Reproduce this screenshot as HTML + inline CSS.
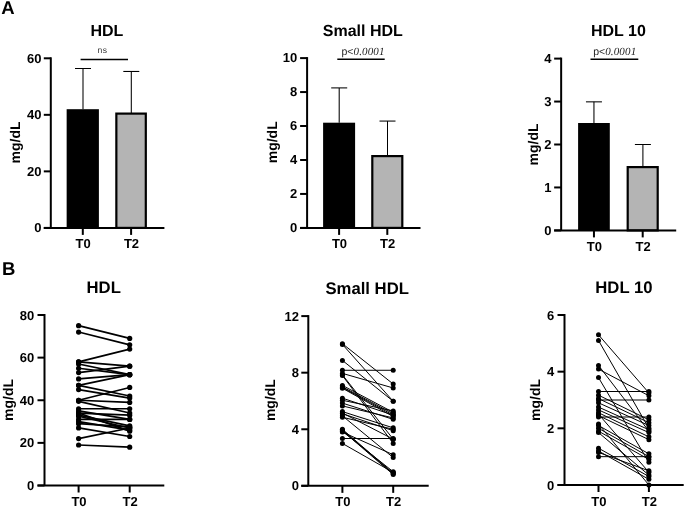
<!DOCTYPE html>
<html><head><meta charset="utf-8"><title>HDL figure</title>
<style>
html,body{margin:0;padding:0;background:#fff;}
body{width:685px;height:508px;overflow:hidden;}
svg{display:block;will-change:transform;}
text{font-family:"Liberation Sans", sans-serif;text-rendering:geometricPrecision;}
.ax{stroke:#000;stroke-width:2.0;fill:none;}
.eb{stroke:#000;stroke-width:1.05;fill:none;}
.sg{stroke:#000;stroke-width:1.5;}
.lbl{font-size:13px;font-weight:bold;fill:#000;}
.yl{font-size:14px;font-weight:bold;fill:#000;}
.tt{font-size:16px;font-weight:bold;fill:#000;}
.tb{font-size:16.7px;font-weight:bold;fill:#000;}
.pl{font-size:18.5px;font-weight:bold;fill:#000;}
.ns{font-size:8.6px;fill:#333;letter-spacing:0.5px;}
.pv{font-size:10.5px;fill:#222;}
.pn{font-family:"Liberation Serif", serif;font-style:italic;font-size:11px;letter-spacing:0.15px;}
</style></head>
<body>
<svg width="685" height="508" viewBox="0 0 685 508">
<rect width="685" height="508" fill="#fff"/>
<text x="1.2" y="13.9" class="pl">A</text>
<text x="2" y="275.1" class="pl">B</text>
<text x="106.9" y="35.9" class="tt" text-anchor="middle">HDL</text>
<line x1="80.6" y1="59.4" x2="128" y2="59.4" class="sg"/>
<text x="97.6" y="53.1" class="ns">ns</text>
<rect x="66.65" y="109.2" width="32.25" height="118.7" fill="#000"/>
<rect x="116.35" y="113.6" width="29.45" height="114.3" fill="#b4b4b4" stroke="#000" stroke-width="2.2"/>
<line x1="83" y1="68.5" x2="83" y2="109.2" class="eb"/>
<line x1="75" y1="68.5" x2="91" y2="68.5" class="eb"/>
<line x1="131.3" y1="71.45" x2="131.3" y2="113" class="eb"/>
<line x1="123.3" y1="71.45" x2="139.3" y2="71.45" class="eb"/>
<line x1="50.8" y1="57.3" x2="50.8" y2="227.9" class="ax"/>
<line x1="43.8" y1="227.9" x2="50.8" y2="227.9" class="ax"/>
<text x="41.4" y="232.1" class="lbl" text-anchor="end">0</text>
<line x1="43.8" y1="171.37" x2="50.8" y2="171.37" class="ax"/>
<text x="41.4" y="175.57" class="lbl" text-anchor="end">20</text>
<line x1="43.8" y1="114.83" x2="50.8" y2="114.83" class="ax"/>
<text x="41.4" y="119.03" class="lbl" text-anchor="end">40</text>
<line x1="43.8" y1="58.3" x2="50.8" y2="58.3" class="ax"/>
<text x="41.4" y="62.5" class="lbl" text-anchor="end">60</text>
<line x1="43.8" y1="227.9" x2="164.4" y2="227.9" class="ax"/>
<line x1="82.8" y1="227.9" x2="82.8" y2="234.9" class="ax"/>
<text x="83.2" y="248.1" class="lbl" text-anchor="middle">T0</text>
<line x1="131.1" y1="227.9" x2="131.1" y2="234.9" class="ax"/>
<text x="131.5" y="248.1" class="lbl" text-anchor="middle">T2</text>
<text x="0" y="0" class="yl" text-anchor="middle" transform="translate(19.7,142.4) rotate(-90)">mg/dL</text>
<text x="362.8" y="36" class="tt" text-anchor="middle">Small HDL</text>
<line x1="337.3" y1="59.3" x2="384.7" y2="59.3" class="sg"/>
<text x="341.5" y="55" class="pv"><tspan class="pp">p&lt;</tspan><tspan class="pn">0.0001</tspan></text>
<rect x="323.1" y="122.7" width="32" height="105.2" fill="#000"/>
<rect x="372.3" y="156.1" width="30" height="71.8" fill="#b4b4b4" stroke="#000" stroke-width="2.2"/>
<line x1="339.2" y1="87.9" x2="339.2" y2="122.7" class="eb"/>
<line x1="331.2" y1="87.9" x2="347.2" y2="87.9" class="eb"/>
<line x1="387.5" y1="121.07" x2="387.5" y2="156" class="eb"/>
<line x1="379.5" y1="121.07" x2="395.5" y2="121.07" class="eb"/>
<line x1="307.1" y1="57.1" x2="307.1" y2="227.9" class="ax"/>
<line x1="300.1" y1="227.9" x2="307.1" y2="227.9" class="ax"/>
<text x="297.3" y="232.1" class="lbl" text-anchor="end">0</text>
<line x1="300.1" y1="193.94" x2="307.1" y2="193.94" class="ax"/>
<text x="297.3" y="198.14" class="lbl" text-anchor="end">2</text>
<line x1="300.1" y1="159.98" x2="307.1" y2="159.98" class="ax"/>
<text x="297.3" y="164.18" class="lbl" text-anchor="end">4</text>
<line x1="300.1" y1="126.02" x2="307.1" y2="126.02" class="ax"/>
<text x="297.3" y="130.22" class="lbl" text-anchor="end">6</text>
<line x1="300.1" y1="92.06" x2="307.1" y2="92.06" class="ax"/>
<text x="297.3" y="96.26" class="lbl" text-anchor="end">8</text>
<line x1="300.1" y1="58.1" x2="307.1" y2="58.1" class="ax"/>
<text x="297.3" y="62.3" class="lbl" text-anchor="end">10</text>
<line x1="300.1" y1="227.9" x2="420.5" y2="227.9" class="ax"/>
<line x1="339.1" y1="227.9" x2="339.1" y2="234.9" class="ax"/>
<text x="339.5" y="248.3" class="lbl" text-anchor="middle">T0</text>
<line x1="387.3" y1="227.9" x2="387.3" y2="234.9" class="ax"/>
<text x="387.7" y="248.3" class="lbl" text-anchor="middle">T2</text>
<text x="0" y="0" class="yl" text-anchor="middle" transform="translate(277.3,142.3) rotate(-90)">mg/dL</text>
<text x="618.4" y="36.2" class="tt" text-anchor="middle">HDL 10</text>
<line x1="590.5" y1="59.3" x2="638.3" y2="59.3" class="sg"/>
<text x="593.2" y="55" class="pv"><tspan class="pp">p&lt;</tspan><tspan class="pn">0.0001</tspan></text>
<rect x="578.1" y="123" width="31.7" height="107.4" fill="#000"/>
<rect x="627.7" y="167.1" width="30" height="63.3" fill="#b4b4b4" stroke="#000" stroke-width="2.2"/>
<line x1="593.95" y1="101.85" x2="593.95" y2="123" class="eb"/>
<line x1="585.95" y1="101.85" x2="601.95" y2="101.85" class="eb"/>
<line x1="642.9" y1="144.5" x2="642.9" y2="167" class="eb"/>
<line x1="634.9" y1="144.5" x2="650.9" y2="144.5" class="eb"/>
<line x1="561.15" y1="57.6" x2="561.15" y2="230.4" class="ax"/>
<line x1="554.15" y1="230.4" x2="561.15" y2="230.4" class="ax"/>
<text x="551.6" y="234.6" class="lbl" text-anchor="end">0</text>
<line x1="554.15" y1="187.45" x2="561.15" y2="187.45" class="ax"/>
<text x="551.6" y="191.65" class="lbl" text-anchor="end">1</text>
<line x1="554.15" y1="144.5" x2="561.15" y2="144.5" class="ax"/>
<text x="551.6" y="148.7" class="lbl" text-anchor="end">2</text>
<line x1="554.15" y1="101.55" x2="561.15" y2="101.55" class="ax"/>
<text x="551.6" y="105.75" class="lbl" text-anchor="end">3</text>
<line x1="554.15" y1="58.6" x2="561.15" y2="58.6" class="ax"/>
<text x="551.6" y="62.8" class="lbl" text-anchor="end">4</text>
<line x1="554.15" y1="230.4" x2="676.2" y2="230.4" class="ax"/>
<line x1="593.95" y1="230.4" x2="593.95" y2="237.4" class="ax"/>
<text x="594.35" y="251.1" class="lbl" text-anchor="middle">T0</text>
<line x1="642.7" y1="230.4" x2="642.7" y2="237.4" class="ax"/>
<text x="643.1" y="251.1" class="lbl" text-anchor="middle">T2</text>
<text x="0" y="0" class="yl" text-anchor="middle" transform="translate(538.2,144.5) rotate(-90)">mg/dL</text>
<text x="103.7" y="293.2" class="tb" text-anchor="middle">HDL</text>
<line x1="44.5" y1="314" x2="44.5" y2="485.5" class="ax"/>
<line x1="37.5" y1="485.5" x2="44.5" y2="485.5" class="ax"/>
<text x="34.2" y="490.1" class="lbl" text-anchor="end">0</text>
<line x1="37.5" y1="442.88" x2="44.5" y2="442.88" class="ax"/>
<text x="34.2" y="447.48" class="lbl" text-anchor="end">20</text>
<line x1="37.5" y1="400.25" x2="44.5" y2="400.25" class="ax"/>
<text x="34.2" y="404.85" class="lbl" text-anchor="end">40</text>
<line x1="37.5" y1="357.62" x2="44.5" y2="357.62" class="ax"/>
<text x="34.2" y="362.23" class="lbl" text-anchor="end">60</text>
<line x1="37.5" y1="315" x2="44.5" y2="315" class="ax"/>
<text x="34.2" y="319.6" class="lbl" text-anchor="end">80</text>
<line x1="37.5" y1="485.5" x2="164.3" y2="485.5" class="ax"/>
<line x1="78.6" y1="485.5" x2="78.6" y2="492.5" class="ax"/>
<text x="79" y="506" class="lbl" text-anchor="middle">T0</text>
<line x1="129.7" y1="485.5" x2="129.7" y2="492.5" class="ax"/>
<text x="130.1" y="506" class="lbl" text-anchor="middle">T2</text>
<line x1="78.6" y1="325.66" x2="129.7" y2="338.44" stroke="#000" stroke-width="1.7"/>
<line x1="78.6" y1="332.05" x2="129.7" y2="344.84" stroke="#000" stroke-width="1.7"/>
<line x1="78.6" y1="361.89" x2="129.7" y2="349.1" stroke="#000" stroke-width="1.7"/>
<line x1="78.6" y1="361.89" x2="129.7" y2="366.15" stroke="#000" stroke-width="1.7"/>
<line x1="78.6" y1="364.02" x2="129.7" y2="374.68" stroke="#000" stroke-width="1.7"/>
<line x1="78.6" y1="368.28" x2="129.7" y2="374.68" stroke="#000" stroke-width="1.7"/>
<line x1="78.6" y1="372.54" x2="129.7" y2="366.15" stroke="#000" stroke-width="1.7"/>
<line x1="78.6" y1="378.94" x2="129.7" y2="374.68" stroke="#000" stroke-width="1.7"/>
<line x1="78.6" y1="385.33" x2="129.7" y2="374.68" stroke="#000" stroke-width="1.7"/>
<line x1="78.6" y1="385.33" x2="129.7" y2="395.99" stroke="#000" stroke-width="1.7"/>
<line x1="78.6" y1="389.59" x2="129.7" y2="398.12" stroke="#000" stroke-width="1.7"/>
<line x1="78.6" y1="400.25" x2="129.7" y2="387.46" stroke="#000" stroke-width="1.7"/>
<line x1="78.6" y1="400.25" x2="129.7" y2="402.38" stroke="#000" stroke-width="1.7"/>
<line x1="78.6" y1="401.32" x2="129.7" y2="413.04" stroke="#000" stroke-width="1.7"/>
<line x1="78.6" y1="408.77" x2="129.7" y2="408.77" stroke="#000" stroke-width="1.7"/>
<line x1="78.6" y1="410.91" x2="129.7" y2="419.43" stroke="#000" stroke-width="1.7"/>
<line x1="78.6" y1="413.04" x2="129.7" y2="415.17" stroke="#000" stroke-width="1.7"/>
<line x1="78.6" y1="415.17" x2="129.7" y2="425.82" stroke="#000" stroke-width="1.7"/>
<line x1="78.6" y1="416.23" x2="129.7" y2="427.96" stroke="#000" stroke-width="1.7"/>
<line x1="78.6" y1="419.43" x2="129.7" y2="419.43" stroke="#000" stroke-width="1.7"/>
<line x1="78.6" y1="421.56" x2="129.7" y2="430.09" stroke="#000" stroke-width="1.7"/>
<line x1="78.6" y1="423.69" x2="129.7" y2="426.89" stroke="#000" stroke-width="1.7"/>
<line x1="78.6" y1="427.96" x2="129.7" y2="436.48" stroke="#000" stroke-width="1.7"/>
<line x1="78.6" y1="438.61" x2="129.7" y2="427.96" stroke="#000" stroke-width="1.7"/>
<line x1="78.6" y1="445.01" x2="129.7" y2="447.14" stroke="#000" stroke-width="1.7"/>
<line x1="78.6" y1="413.04" x2="129.7" y2="431.15" stroke="#000" stroke-width="1.7"/>
<circle cx="78.6" cy="325.66" r="2.6"/>
<circle cx="129.7" cy="338.44" r="2.6"/>
<circle cx="78.6" cy="332.05" r="2.6"/>
<circle cx="129.7" cy="344.84" r="2.6"/>
<circle cx="78.6" cy="361.89" r="2.6"/>
<circle cx="129.7" cy="349.1" r="2.6"/>
<circle cx="78.6" cy="361.89" r="2.6"/>
<circle cx="129.7" cy="366.15" r="2.6"/>
<circle cx="78.6" cy="364.02" r="2.6"/>
<circle cx="129.7" cy="374.68" r="2.6"/>
<circle cx="78.6" cy="368.28" r="2.6"/>
<circle cx="129.7" cy="374.68" r="2.6"/>
<circle cx="78.6" cy="372.54" r="2.6"/>
<circle cx="129.7" cy="366.15" r="2.6"/>
<circle cx="78.6" cy="378.94" r="2.6"/>
<circle cx="129.7" cy="374.68" r="2.6"/>
<circle cx="78.6" cy="385.33" r="2.6"/>
<circle cx="129.7" cy="374.68" r="2.6"/>
<circle cx="78.6" cy="385.33" r="2.6"/>
<circle cx="129.7" cy="395.99" r="2.6"/>
<circle cx="78.6" cy="389.59" r="2.6"/>
<circle cx="129.7" cy="398.12" r="2.6"/>
<circle cx="78.6" cy="400.25" r="2.6"/>
<circle cx="129.7" cy="387.46" r="2.6"/>
<circle cx="78.6" cy="400.25" r="2.6"/>
<circle cx="129.7" cy="402.38" r="2.6"/>
<circle cx="78.6" cy="401.32" r="2.6"/>
<circle cx="129.7" cy="413.04" r="2.6"/>
<circle cx="78.6" cy="408.77" r="2.6"/>
<circle cx="129.7" cy="408.77" r="2.6"/>
<circle cx="78.6" cy="410.91" r="2.6"/>
<circle cx="129.7" cy="419.43" r="2.6"/>
<circle cx="78.6" cy="413.04" r="2.6"/>
<circle cx="129.7" cy="415.17" r="2.6"/>
<circle cx="78.6" cy="415.17" r="2.6"/>
<circle cx="129.7" cy="425.82" r="2.6"/>
<circle cx="78.6" cy="416.23" r="2.6"/>
<circle cx="129.7" cy="427.96" r="2.6"/>
<circle cx="78.6" cy="419.43" r="2.6"/>
<circle cx="129.7" cy="419.43" r="2.6"/>
<circle cx="78.6" cy="421.56" r="2.6"/>
<circle cx="129.7" cy="430.09" r="2.6"/>
<circle cx="78.6" cy="423.69" r="2.6"/>
<circle cx="129.7" cy="426.89" r="2.6"/>
<circle cx="78.6" cy="427.96" r="2.6"/>
<circle cx="129.7" cy="436.48" r="2.6"/>
<circle cx="78.6" cy="438.61" r="2.6"/>
<circle cx="129.7" cy="427.96" r="2.6"/>
<circle cx="78.6" cy="445.01" r="2.6"/>
<circle cx="129.7" cy="447.14" r="2.6"/>
<circle cx="78.6" cy="413.04" r="2.6"/>
<circle cx="129.7" cy="431.15" r="2.6"/>
<text x="0" y="0" class="yl" text-anchor="middle" transform="translate(12.8,400) rotate(-90)">mg/dL</text>
<text x="367.2" y="294.2" class="tb" text-anchor="middle">Small HDL</text>
<line x1="308.3" y1="315.1" x2="308.3" y2="485.85" class="ax"/>
<line x1="301.3" y1="485.85" x2="308.3" y2="485.85" class="ax"/>
<text x="299" y="490.45" class="lbl" text-anchor="end">0</text>
<line x1="301.3" y1="429.27" x2="308.3" y2="429.27" class="ax"/>
<text x="299" y="433.87" class="lbl" text-anchor="end">4</text>
<line x1="301.3" y1="372.68" x2="308.3" y2="372.68" class="ax"/>
<text x="299" y="377.28" class="lbl" text-anchor="end">8</text>
<line x1="301.3" y1="316.1" x2="308.3" y2="316.1" class="ax"/>
<text x="299" y="320.7" class="lbl" text-anchor="end">12</text>
<line x1="301.3" y1="485.85" x2="428.7" y2="485.85" class="ax"/>
<line x1="342.4" y1="485.85" x2="342.4" y2="492.85" class="ax"/>
<text x="342.8" y="506.3" class="lbl" text-anchor="middle">T0</text>
<line x1="393.2" y1="485.85" x2="393.2" y2="492.85" class="ax"/>
<text x="393.6" y="506.3" class="lbl" text-anchor="middle">T2</text>
<line x1="342.4" y1="343.68" x2="393.2" y2="384" stroke="#000" stroke-width="1.0"/>
<line x1="342.4" y1="344.39" x2="393.2" y2="401.26" stroke="#000" stroke-width="1.0"/>
<line x1="342.4" y1="360.38" x2="393.2" y2="401.26" stroke="#000" stroke-width="1.0"/>
<line x1="342.4" y1="370.28" x2="393.2" y2="370.28" stroke="#000" stroke-width="1.0"/>
<line x1="342.4" y1="373.39" x2="393.2" y2="387.96" stroke="#000" stroke-width="1.0"/>
<line x1="342.4" y1="374.81" x2="393.2" y2="439.17" stroke="#000" stroke-width="1.0"/>
<line x1="342.4" y1="375.51" x2="393.2" y2="443.41" stroke="#000" stroke-width="1.0"/>
<line x1="342.4" y1="385.41" x2="393.2" y2="412.29" stroke="#000" stroke-width="1.0"/>
<line x1="342.4" y1="386.83" x2="393.2" y2="413.71" stroke="#000" stroke-width="1.0"/>
<line x1="342.4" y1="387.54" x2="393.2" y2="415.12" stroke="#000" stroke-width="1.0"/>
<line x1="342.4" y1="388.24" x2="393.2" y2="416.54" stroke="#000" stroke-width="1.0"/>
<line x1="342.4" y1="398.15" x2="393.2" y2="415.12" stroke="#000" stroke-width="1.0"/>
<line x1="342.4" y1="400.27" x2="393.2" y2="410.88" stroke="#000" stroke-width="1.0"/>
<line x1="342.4" y1="403.1" x2="393.2" y2="419.36" stroke="#000" stroke-width="1.0"/>
<line x1="342.4" y1="405.93" x2="393.2" y2="417.95" stroke="#000" stroke-width="1.0"/>
<line x1="342.4" y1="411.58" x2="393.2" y2="427.85" stroke="#000" stroke-width="1.0"/>
<line x1="342.4" y1="413.71" x2="393.2" y2="430.68" stroke="#000" stroke-width="1.0"/>
<line x1="342.4" y1="413" x2="393.2" y2="439.17" stroke="#000" stroke-width="1.0"/>
<line x1="342.4" y1="417.24" x2="393.2" y2="429.27" stroke="#000" stroke-width="1.0"/>
<line x1="342.4" y1="429.27" x2="393.2" y2="473.12" stroke="#000" stroke-width="1.0"/>
<line x1="342.4" y1="429.97" x2="393.2" y2="473.83" stroke="#000" stroke-width="1.0"/>
<line x1="342.4" y1="430.68" x2="393.2" y2="474.53" stroke="#000" stroke-width="1.0"/>
<line x1="342.4" y1="431.39" x2="393.2" y2="471.7" stroke="#000" stroke-width="1.0"/>
<line x1="342.4" y1="432.1" x2="393.2" y2="454.73" stroke="#000" stroke-width="1.0"/>
<line x1="342.4" y1="438.5" x2="393.2" y2="438.5" stroke="#000" stroke-width="1.0"/>
<line x1="342.4" y1="443.41" x2="393.2" y2="472.41" stroke="#000" stroke-width="1.0"/>
<line x1="342.4" y1="415.83" x2="393.2" y2="457.56" stroke="#000" stroke-width="1.0"/>
<circle cx="342.4" cy="343.68" r="2.5"/>
<circle cx="393.2" cy="384" r="2.5"/>
<circle cx="342.4" cy="344.39" r="2.5"/>
<circle cx="393.2" cy="401.26" r="2.5"/>
<circle cx="342.4" cy="360.38" r="2.5"/>
<circle cx="393.2" cy="401.26" r="2.5"/>
<circle cx="342.4" cy="370.28" r="2.5"/>
<circle cx="393.2" cy="370.28" r="2.5"/>
<circle cx="342.4" cy="373.39" r="2.5"/>
<circle cx="393.2" cy="387.96" r="2.5"/>
<circle cx="342.4" cy="374.81" r="2.5"/>
<circle cx="393.2" cy="439.17" r="2.5"/>
<circle cx="342.4" cy="375.51" r="2.5"/>
<circle cx="393.2" cy="443.41" r="2.5"/>
<circle cx="342.4" cy="385.41" r="2.5"/>
<circle cx="393.2" cy="412.29" r="2.5"/>
<circle cx="342.4" cy="386.83" r="2.5"/>
<circle cx="393.2" cy="413.71" r="2.5"/>
<circle cx="342.4" cy="387.54" r="2.5"/>
<circle cx="393.2" cy="415.12" r="2.5"/>
<circle cx="342.4" cy="388.24" r="2.5"/>
<circle cx="393.2" cy="416.54" r="2.5"/>
<circle cx="342.4" cy="398.15" r="2.5"/>
<circle cx="393.2" cy="415.12" r="2.5"/>
<circle cx="342.4" cy="400.27" r="2.5"/>
<circle cx="393.2" cy="410.88" r="2.5"/>
<circle cx="342.4" cy="403.1" r="2.5"/>
<circle cx="393.2" cy="419.36" r="2.5"/>
<circle cx="342.4" cy="405.93" r="2.5"/>
<circle cx="393.2" cy="417.95" r="2.5"/>
<circle cx="342.4" cy="411.58" r="2.5"/>
<circle cx="393.2" cy="427.85" r="2.5"/>
<circle cx="342.4" cy="413.71" r="2.5"/>
<circle cx="393.2" cy="430.68" r="2.5"/>
<circle cx="342.4" cy="413" r="2.5"/>
<circle cx="393.2" cy="439.17" r="2.5"/>
<circle cx="342.4" cy="417.24" r="2.5"/>
<circle cx="393.2" cy="429.27" r="2.5"/>
<circle cx="342.4" cy="429.27" r="2.5"/>
<circle cx="393.2" cy="473.12" r="2.5"/>
<circle cx="342.4" cy="429.97" r="2.5"/>
<circle cx="393.2" cy="473.83" r="2.5"/>
<circle cx="342.4" cy="430.68" r="2.5"/>
<circle cx="393.2" cy="474.53" r="2.5"/>
<circle cx="342.4" cy="431.39" r="2.5"/>
<circle cx="393.2" cy="471.7" r="2.5"/>
<circle cx="342.4" cy="432.1" r="2.5"/>
<circle cx="393.2" cy="454.73" r="2.5"/>
<circle cx="342.4" cy="438.5" r="2.5"/>
<circle cx="393.2" cy="438.5" r="2.5"/>
<circle cx="342.4" cy="443.41" r="2.5"/>
<circle cx="393.2" cy="472.41" r="2.5"/>
<circle cx="342.4" cy="415.83" r="2.5"/>
<circle cx="393.2" cy="457.56" r="2.5"/>
<text x="0" y="0" class="yl" text-anchor="middle" transform="translate(274.6,400.1) rotate(-90)">mg/dL</text>
<text x="623.9" y="293.2" class="tb" text-anchor="middle">HDL 10</text>
<line x1="564.5" y1="314" x2="564.5" y2="485" class="ax"/>
<line x1="557.5" y1="485" x2="564.5" y2="485" class="ax"/>
<text x="554.2" y="489.6" class="lbl" text-anchor="end">0</text>
<line x1="557.5" y1="428.33" x2="564.5" y2="428.33" class="ax"/>
<text x="554.2" y="432.93" class="lbl" text-anchor="end">2</text>
<line x1="557.5" y1="371.67" x2="564.5" y2="371.67" class="ax"/>
<text x="554.2" y="376.27" class="lbl" text-anchor="end">4</text>
<line x1="557.5" y1="315" x2="564.5" y2="315" class="ax"/>
<text x="554.2" y="319.6" class="lbl" text-anchor="end">6</text>
<line x1="557.5" y1="485" x2="683.7" y2="485" class="ax"/>
<line x1="598.5" y1="485" x2="598.5" y2="492" class="ax"/>
<text x="598.9" y="505.8" class="lbl" text-anchor="middle">T0</text>
<line x1="648.9" y1="485" x2="648.9" y2="492" class="ax"/>
<text x="649.3" y="505.8" class="lbl" text-anchor="middle">T2</text>
<line x1="598.5" y1="334.83" x2="648.9" y2="392.92" stroke="#000" stroke-width="1.0"/>
<line x1="598.5" y1="340.5" x2="648.9" y2="428.33" stroke="#000" stroke-width="1.0"/>
<line x1="598.5" y1="365.43" x2="648.9" y2="431.17" stroke="#000" stroke-width="1.0"/>
<line x1="598.5" y1="369.12" x2="648.9" y2="395.75" stroke="#000" stroke-width="1.0"/>
<line x1="598.5" y1="377.62" x2="648.9" y2="462.33" stroke="#000" stroke-width="1.0"/>
<line x1="598.5" y1="391.5" x2="648.9" y2="391.5" stroke="#000" stroke-width="1.0"/>
<line x1="598.5" y1="395.18" x2="648.9" y2="419.83" stroke="#000" stroke-width="1.0"/>
<line x1="598.5" y1="398.58" x2="648.9" y2="422.67" stroke="#000" stroke-width="1.0"/>
<line x1="598.5" y1="400" x2="648.9" y2="400" stroke="#000" stroke-width="1.0"/>
<line x1="598.5" y1="402.83" x2="648.9" y2="425.5" stroke="#000" stroke-width="1.0"/>
<line x1="598.5" y1="407.08" x2="648.9" y2="429.75" stroke="#000" stroke-width="1.0"/>
<line x1="598.5" y1="409.92" x2="648.9" y2="432.58" stroke="#000" stroke-width="1.0"/>
<line x1="598.5" y1="412.75" x2="648.9" y2="436.83" stroke="#000" stroke-width="1.0"/>
<line x1="598.5" y1="415.58" x2="648.9" y2="439.67" stroke="#000" stroke-width="1.0"/>
<line x1="598.5" y1="417" x2="648.9" y2="417" stroke="#000" stroke-width="1.0"/>
<line x1="598.5" y1="414.17" x2="648.9" y2="472.25" stroke="#000" stroke-width="1.0"/>
<line x1="598.5" y1="425.5" x2="648.9" y2="453.83" stroke="#000" stroke-width="1.0"/>
<line x1="598.5" y1="428.33" x2="648.9" y2="456.67" stroke="#000" stroke-width="1.0"/>
<line x1="598.5" y1="431.17" x2="648.9" y2="459.5" stroke="#000" stroke-width="1.0"/>
<line x1="598.5" y1="432.58" x2="648.9" y2="475.08" stroke="#000" stroke-width="1.0"/>
<line x1="598.5" y1="448.17" x2="648.9" y2="476.5" stroke="#000" stroke-width="1.0"/>
<line x1="598.5" y1="451" x2="648.9" y2="479.33" stroke="#000" stroke-width="1.0"/>
<line x1="598.5" y1="452.42" x2="648.9" y2="470.83" stroke="#000" stroke-width="1.0"/>
<line x1="598.5" y1="456.67" x2="648.9" y2="456.67" stroke="#000" stroke-width="1.0"/>
<line x1="598.5" y1="424.08" x2="648.9" y2="485" stroke="#000" stroke-width="1.0"/>
<circle cx="598.5" cy="334.83" r="2.5"/>
<circle cx="648.9" cy="392.92" r="2.5"/>
<circle cx="598.5" cy="340.5" r="2.5"/>
<circle cx="648.9" cy="428.33" r="2.5"/>
<circle cx="598.5" cy="365.43" r="2.5"/>
<circle cx="648.9" cy="431.17" r="2.5"/>
<circle cx="598.5" cy="369.12" r="2.5"/>
<circle cx="648.9" cy="395.75" r="2.5"/>
<circle cx="598.5" cy="377.62" r="2.5"/>
<circle cx="648.9" cy="462.33" r="2.5"/>
<circle cx="598.5" cy="391.5" r="2.5"/>
<circle cx="648.9" cy="391.5" r="2.5"/>
<circle cx="598.5" cy="395.18" r="2.5"/>
<circle cx="648.9" cy="419.83" r="2.5"/>
<circle cx="598.5" cy="398.58" r="2.5"/>
<circle cx="648.9" cy="422.67" r="2.5"/>
<circle cx="598.5" cy="400" r="2.5"/>
<circle cx="648.9" cy="400" r="2.5"/>
<circle cx="598.5" cy="402.83" r="2.5"/>
<circle cx="648.9" cy="425.5" r="2.5"/>
<circle cx="598.5" cy="407.08" r="2.5"/>
<circle cx="648.9" cy="429.75" r="2.5"/>
<circle cx="598.5" cy="409.92" r="2.5"/>
<circle cx="648.9" cy="432.58" r="2.5"/>
<circle cx="598.5" cy="412.75" r="2.5"/>
<circle cx="648.9" cy="436.83" r="2.5"/>
<circle cx="598.5" cy="415.58" r="2.5"/>
<circle cx="648.9" cy="439.67" r="2.5"/>
<circle cx="598.5" cy="417" r="2.5"/>
<circle cx="648.9" cy="417" r="2.5"/>
<circle cx="598.5" cy="414.17" r="2.5"/>
<circle cx="648.9" cy="472.25" r="2.5"/>
<circle cx="598.5" cy="425.5" r="2.5"/>
<circle cx="648.9" cy="453.83" r="2.5"/>
<circle cx="598.5" cy="428.33" r="2.5"/>
<circle cx="648.9" cy="456.67" r="2.5"/>
<circle cx="598.5" cy="431.17" r="2.5"/>
<circle cx="648.9" cy="459.5" r="2.5"/>
<circle cx="598.5" cy="432.58" r="2.5"/>
<circle cx="648.9" cy="475.08" r="2.5"/>
<circle cx="598.5" cy="448.17" r="2.5"/>
<circle cx="648.9" cy="476.5" r="2.5"/>
<circle cx="598.5" cy="451" r="2.5"/>
<circle cx="648.9" cy="479.33" r="2.5"/>
<circle cx="598.5" cy="452.42" r="2.5"/>
<circle cx="648.9" cy="470.83" r="2.5"/>
<circle cx="598.5" cy="456.67" r="2.5"/>
<circle cx="648.9" cy="456.67" r="2.5"/>
<circle cx="598.5" cy="424.08" r="2.5"/>
<circle cx="648.9" cy="485" r="2.5"/>
<text x="0" y="0" class="yl" text-anchor="middle" transform="translate(539.6,400) rotate(-90)">mg/dL</text>
</svg>
</body></html>
